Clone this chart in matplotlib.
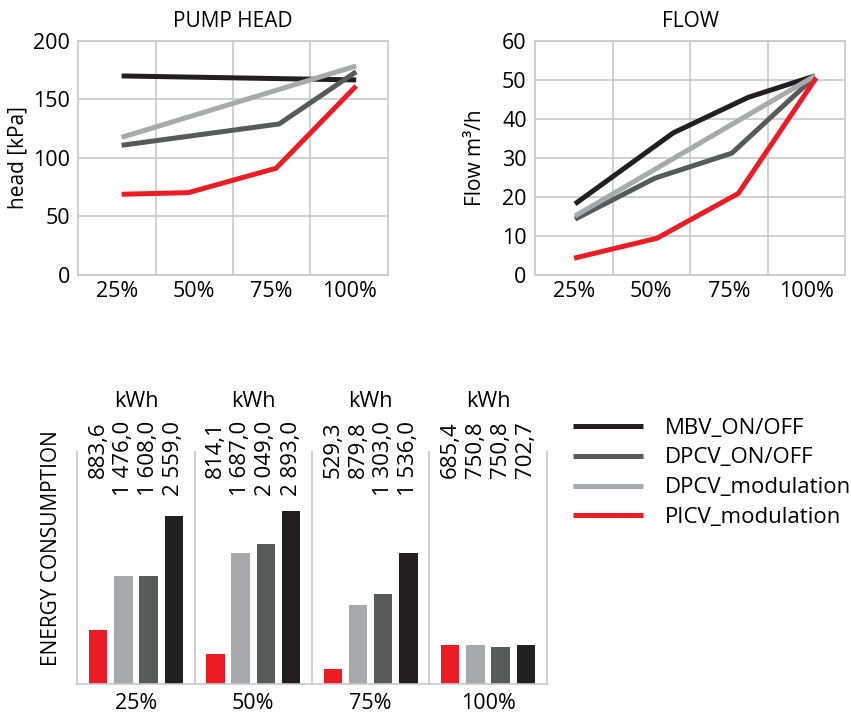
import matplotlib
matplotlib.use("Agg")
import matplotlib.pyplot as plt
from matplotlib.ticker import FixedLocator

plt.rcParams['font.family'] = ['Open Sans', 'DejaVu Sans']

# categories / series
loads = ["25%", "50%", "75%", "100%"]
load_ticks = [25, 50, 75, 100]
series = ["MBV_ON/OFF", "DPCV_ON/OFF", "DPCV_modulation", "PICV_modulation"]
colors = ["#231f20", "#58595b", "#a7a9ac", "#ed1c24"]

# pump head [kPa] (x = load as drawn)
head_mbv_x = [26.5, 102.3]
head_mbv = [169.9, 166.5]
head_dpcv_x = [26.5, 77.4, 102.3]
head_dpcv = [110.7, 128.9, 173.5]
head_dpcvmod_x = [26.5, 102.3]
head_dpcvmod = [117.5, 178.4]
head_picv_x = [26.5, 48.1, 76.4, 102.3]
head_picv = [68.9, 70.3, 91.1, 161.3]

# flow [m3/h]
flow_mbv_x = [25.4, 57.1, 81.3, 102.8]
flow_mbv = [18.2, 36.4, 45.5, 51.0]
flow_dpcv_x = [25.4, 51.2, 76.0, 102.8]
flow_dpcv = [14.3, 24.8, 31.2, 50.8]
flow_dpcvmod_x = [25.4, 102.8]
flow_dpcvmod = [15.1, 51.0]
flow_picv_x = [25.1, 51.8, 78.1, 103.2]
flow_picv = [4.3, 9.4, 20.9, 50.5]

# energy consumption labels [kWh]
energy_picv = [883.6, 814.1, 529.3, 685.4]
energy_dpcvmod = [1476.0, 1687.0, 879.8, 750.8]
energy_dpcv = [1608.0, 2049.0, 1303.0, 750.8]
energy_mbv = [2559.0, 2893.0, 1536.0, 702.7]

# bar heights as drawn in the original (not to scale with the kWh labels)
bar_picv = [54.3, 30.0, 15.6, 39.3]
bar_dpcvmod = [108.3, 131.0, 79.3, 39.3]
bar_dpcv = [108.3, 140.3, 90.3, 37.0]
bar_mbv = [168.3, 173.7, 131.0, 39.3]

GRID = "#c7c8ca"
FS = 15.5
LW = 3.6


def kwh(v):
    return f"{v:,.1f}".replace(",", " ").replace(".", ",")


def style_line_axes(ax):
    ax.set_xlim(12.5, 112.5)
    ax.set_xticks(load_ticks)
    ax.set_xticklabels(loads)
    ax.xaxis.set_minor_locator(FixedLocator([37.5, 62.5, 87.5]))
    ax.grid(True, which="major", axis="y", color=GRID, lw=1.2)
    ax.grid(True, which="minor", axis="x", color=GRID, lw=1.2)
    ax.tick_params(which="both", length=0, labelsize=FS)
    ax.tick_params(axis="y", pad=6)
    ax.tick_params(axis="x", pad=4)
    for s in ax.spines.values():
        s.set_color(GRID)
        s.set_linewidth(1.2)
    ax.set_axisbelow(True)


fig = plt.figure(figsize=(8.51, 7.15), dpi=100)

# PUMP HEAD
ax1 = fig.add_axes([0.0920, 0.6154, 0.3636, 0.3277])
head = [(head_mbv_x, head_mbv), (head_dpcv_x, head_dpcv),
        (head_dpcvmod_x, head_dpcvmod), (head_picv_x, head_picv)]
handles = []
for (x, y), c, name in zip(head, colors, series):
    ln, = ax1.plot(x, y, color=c, lw=LW, solid_capstyle="butt", label=name)
    handles.append(ln)
ax1.set_ylim(0, 200)
ax1.set_yticks([0, 50, 100, 150, 200])
style_line_axes(ax1)
ax1.text(0.5, 1.06, "PUMP HEAD", transform=ax1.transAxes, ha="center",
         va="baseline", fontsize=15)
ax1.text(-0.194, 0.5, "head [kPa]", transform=ax1.transAxes, rotation=90,
         ha="center", va="center", fontsize=15)

# FLOW
ax2 = fig.add_axes([0.6287, 0.6154, 0.3643, 0.3277])
flow = [(flow_mbv_x, flow_mbv), (flow_dpcv_x, flow_dpcv),
        (flow_dpcvmod_x, flow_dpcvmod), (flow_picv_x, flow_picv)]
for (x, y), c in zip(flow, colors):
    ax2.plot(x, y, color=c, lw=LW, solid_capstyle="butt")
ax2.set_ylim(0, 60)
ax2.set_yticks(range(0, 61, 10))
style_line_axes(ax2)
ax2.text(0.5, 1.06, "FLOW", transform=ax2.transAxes, ha="center",
         va="baseline", fontsize=15)
ax2.text(-0.1935, 0.5, "Flow m³/h", transform=ax2.transAxes, rotation=90,
         ha="center", va="center", fontsize=15)

# ENERGY CONSUMPTION
ax3 = fig.add_axes([0.0908, 0.0429, 0.5516, 0.3267])
bar_sets = [(bar_picv, energy_picv, colors[3]),
            (bar_dpcvmod, energy_dpcvmod, colors[2]),
            (bar_dpcv, energy_dpcv, colors[1]),
            (bar_mbv, energy_mbv, colors[0])]
offsets = [-0.3225, -0.1075, 0.1075, 0.3225]
for (h, vals, c), off in zip(bar_sets, offsets):
    xs = [i + off for i in range(len(loads))]
    ax3.bar(xs, h, width=0.157, color=c, edgecolor="none")
    for x, v in zip(xs, vals):
        ax3.text(x, 1.127, kwh(v), transform=ax3.get_xaxis_transform(),
                 rotation=90, ha="center", va="top", fontsize=16)
for i in range(len(loads)):
    ax3.text(i, 1.188, "kWh", transform=ax3.get_xaxis_transform(),
             ha="center", va="baseline", fontsize=FS)
for sep in [0.5, 1.5, 2.5]:
    ax3.axvline(sep, color=GRID, lw=1.2)
ax3.set_xlim(-0.5, 3.5)
ax3.set_ylim(0, 233.6)
ax3.set_yticks([])
ax3.set_xticks(range(len(loads)))
ax3.set_xticklabels(loads)
ax3.tick_params(length=0, labelsize=FS, pad=6)
ax3.spines["top"].set_visible(False)
for k in ["left", "right", "bottom"]:
    ax3.spines[k].set_color(GRID)
    ax3.spines[k].set_linewidth(1.2)
fig.text(51.7 / 851, 1 - 548 / 715, "ENERGY CONSUMPTION", rotation=90,
         ha="center", va="center", fontsize=15)

fig.legend(handles=handles, loc="upper left", bbox_to_anchor=(573 / 851, 1 - 417.5 / 715),
           frameon=False, fontsize=16, handlelength=3.15, handletextpad=0.98,
           labelspacing=0.4, borderpad=0, borderaxespad=0)

fig.savefig("out.png", dpi=100)
